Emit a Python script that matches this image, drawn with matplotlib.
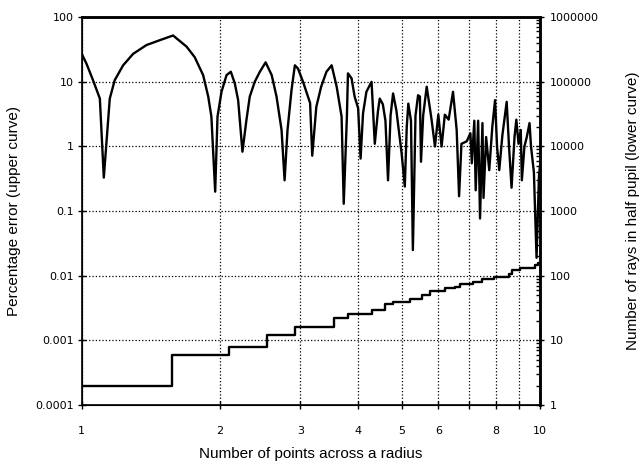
import numpy as np
import matplotlib
matplotlib.use("Agg")
import matplotlib.pyplot as plt
from matplotlib.ticker import FixedLocator, FixedFormatter, NullFormatter, LogLocator

# upper curve: percentage error vs points across a radius
n_err = [1.000, 1.024, 1.058, 1.095, 1.117, 1.151, 1.180, 1.231, 1.294, 1.384,
         1.480, 1.582, 1.693, 1.764, 1.840, 1.888, 1.918, 1.955, 1.978, 2.018,
         2.070, 2.115, 2.158, 2.194, 2.242, 2.288, 2.326, 2.385, 2.447, 2.519,
         2.597, 2.661, 2.729, 2.771, 2.812, 2.869, 2.918, 2.964, 3.040, 3.150,
         3.184, 3.250, 3.330, 3.420, 3.510, 3.600, 3.690, 3.730, 3.790, 3.810,
         3.880, 3.940, 4.010, 4.060, 4.110, 4.180, 4.290, 4.360, 4.430, 4.470,
         4.540, 4.600, 4.660, 4.720, 4.780, 4.860, 4.990, 5.070, 5.120, 5.160,
         5.230, 5.280, 5.350, 5.420, 5.470, 5.500, 5.560, 5.660, 5.800, 5.900,
         6.000, 6.100, 6.200, 6.320, 6.460, 6.580, 6.660, 6.740, 6.920, 7.050,
         7.100, 7.190, 7.240, 7.330, 7.400, 7.490, 7.530, 7.630, 7.750, 7.870,
         7.980, 8.060, 8.150, 8.280, 8.460, 8.560, 8.670, 8.800, 8.880, 8.980,
         9.080, 9.130, 9.250, 9.360, 9.490, 9.560, 9.700, 9.830, 9.950, 10.00]
err = [27, 19, 10.6, 5.5, 0.33, 5.5, 10.6, 18, 27, 37,
       44, 52, 35, 24, 12.7, 5.9, 2.9, 0.2, 2.9, 7,
       12.7, 14.3, 9.4, 5.2, 0.83, 2.6, 5.9, 10, 14.3, 20,
       12.7, 5.9, 1.8, 0.3, 1.8, 7.4, 18, 16, 10, 4.7,
       0.72, 4.1, 8.4, 14.3, 18, 8.4, 2.9, 0.13, 2.9, 13.5,
       11.3, 5.9, 3.9, 0.65, 3.25, 7, 10, 1.1, 3.5, 5.5,
       4.5, 2.5, 0.3, 3, 6.6, 3.6, 0.78, 0.24, 2, 4.6,
       2.5, 0.025, 3, 6.2, 5.9, 0.58, 3, 8.4, 2.6, 1.0,
       3.1, 1.0, 3.1, 2.6, 7, 1.8, 0.17, 1.1, 1.2, 1.6,
       0.55, 2.5, 0.21, 2.5, 0.077, 2.3, 0.16, 1.4, 0.43, 2,
       5.2, 1.0, 0.43, 1.5, 4.9, 1.0, 0.23, 1.4, 2.6, 1.1,
       1.8, 0.3, 1.0, 1.4, 2.3, 1.0, 0.4, 0.019, 0.34, 0.5]

# lower curve: number of rays in half pupil (step function)
n_rays = [1.00, 1.57, 2.10, 2.54, 2.92, 3.55, 3.81, 4.30, 4.58, 4.77, 5.20, 5.52,
          5.75, 6.20, 6.52, 6.69, 7.15, 7.47, 7.92, 8.54, 8.67, 9.05, 9.74, 9.89, 10.0]
rays = [2, 6, 8, 12, 16, 22, 26, 30, 36, 40, 44, 50,
        58, 64, 68, 74, 80, 88, 96, 106, 122, 134, 146, 156, 156]

x_ticks = [1, 2, 3, 4, 5, 6, 8, 10]
left_ticks = [0.0001, 0.001, 0.01, 0.1, 1, 10, 100]
left_labels = ['0.0001', '0.001', '0.01', '0.1', '1', '10', '100']
right_ticks = [1, 10, 100, 1000, 10000, 100000, 1000000]
right_labels = ['1', '10', '100', '1000', '10000', '100000', '1000000']

fig = plt.figure(figsize=(6.39, 4.63), dpi=100)
ax = fig.add_axes([0.128, 0.125, 0.717, 0.838])
ax2 = ax.twinx()

ax.plot(n_err, err, color='black', lw=1.7, zorder=3)
ax2.plot(n_rays, rays, color='black', lw=1.7, drawstyle='steps-post', zorder=3)

ax.set_xscale('log')
ax.set_yscale('log')
ax2.set_yscale('log')
ax.set_xlim(1, 10)
ax.set_ylim(0.0001, 100)
ax2.set_ylim(1, 1000000)

ax.xaxis.set_major_locator(FixedLocator(x_ticks))
ax.xaxis.set_major_formatter(FixedFormatter([str(t) for t in x_ticks]))
ax.xaxis.set_minor_locator(FixedLocator([7, 9]))
ax.xaxis.set_minor_formatter(NullFormatter())
ax.yaxis.set_major_locator(FixedLocator(left_ticks))
ax.yaxis.set_major_formatter(FixedFormatter(left_labels))
ax.yaxis.set_minor_locator(FixedLocator([]))
ax2.yaxis.set_major_locator(FixedLocator(right_ticks))
ax2.yaxis.set_major_formatter(FixedFormatter(right_labels))
ax2.yaxis.set_minor_locator(LogLocator(base=10, subs=np.arange(2, 10), numticks=20))
ax2.yaxis.set_minor_formatter(NullFormatter())

for lab in ax.get_xticklabels() + ax.get_yticklabels() + ax2.get_yticklabels():
    lab.set_fontfamily('DejaVu Sans')
    lab.set_fontsize(8)

ax.tick_params(axis='x', which='both', direction='inout', length=6, width=1, pad=12)
ax.tick_params(axis='y', which='both', direction='inout', length=6, width=1, pad=3)
ax2.tick_params(axis='y', which='major', direction='inout', length=6, width=1, pad=4)
ax2.tick_params(axis='y', which='minor', direction='in', length=3, width=1)

ax.grid(True, which='both', axis='x', linestyle=':', color='black', lw=0.9)
ax.grid(True, which='major', axis='y', linestyle=':', color='black', lw=0.9)

for sp in ['top', 'right']:
    ax.spines[sp].set_linewidth(1.8)
    ax2.spines[sp].set_linewidth(1.8)
ax.spines['left'].set_linewidth(1.2)
ax.spines['bottom'].set_linewidth(1.2)

ax.set_xlabel('Number of points across a radius', fontsize=11,
              family='Liberation Sans', labelpad=8)
ax.set_ylabel('Percentage error (upper curve)', fontsize=11,
              family='Liberation Sans', labelpad=10)
ax2.set_ylabel('Number of rays in half pupil (lower curve)', fontsize=11,
               family='Liberation Sans', rotation=90, labelpad=20)

fig.savefig('out.png', dpi=100)
